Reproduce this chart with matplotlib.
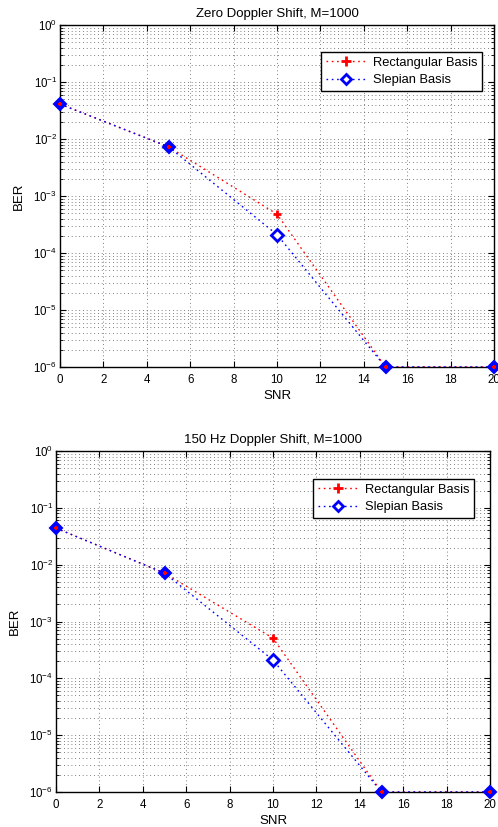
import matplotlib
matplotlib.use("Agg")
import matplotlib.pyplot as plt

plt.rcParams['font.family'] = ['Liberation Sans', 'DejaVu Sans']
plt.rcParams['mathtext.fontset'] = 'custom'
plt.rcParams['mathtext.rm'] = 'Liberation Sans'

snr = [0, 5, 10, 15, 20]
rect_top = [0.041, 0.0073, 4.8e-4, 1e-6, 1e-6]
slep_top = [0.041, 0.0073, 2.1e-4, 1e-6, 1e-6]
rect_bot = [0.044, 0.0071, 5.1e-4, 1e-6, 1e-6]
slep_bot = [0.044, 0.0071, 2.1e-4, 1e-6, 1e-6]
titles = ["Zero Doppler Shift, M=1000", "150 Hz Doppler Shift, M=1000"]
series_names = ['Rectangular Basis', 'Slepian Basis']
xticks = list(range(0, 21, 2))

fig = plt.figure(figsize=(4.98, 8.27), dpi=100)
W, H = 498, 827
# [left, top, right, bottom] in pixels
boxes = [(60, 25, 494, 367), (56, 451, 490, 792)]
legpos = [(321, 52), (313, 479)]
datasets = [(rect_top, slep_top), (rect_bot, slep_bot)]
dots = (0, (1.2, 2.6))
gridls = (0, (1, 3.5))

for i in range(2):
    l, t, r, b = boxes[i]
    ax = fig.add_axes([l / W, 1 - b / H, (r - l) / W, (b - t) / H])
    rect, slep = datasets[i]
    ax.set_yscale('log')
    ax.set_xlim(0, 20)
    ax.set_ylim(1e-6, 1)
    ax.plot(snr, rect, linestyle=dots, color='red', lw=1.0, zorder=3)
    ax.plot(snr, slep, linestyle=dots, color='blue', lw=1.0, zorder=3)
    same = [j for j in range(len(snr)) if rect[j] == slep[j]]
    diff = [j for j in range(len(snr)) if rect[j] != slep[j]]
    ax.plot([snr[j] for j in same], [slep[j] for j in same], linestyle='none',
            marker='D', ms=6.5, color='blue', mfc='blue', mew=1.5, zorder=4, clip_on=False)
    ax.plot([snr[j] for j in diff], [slep[j] for j in diff], linestyle='none',
            marker='D', ms=6, color='blue', mfc='white', mew=2, zorder=4, clip_on=False)
    ax.plot([snr[j] for j in same], [rect[j] for j in same], linestyle='none',
            marker='+', ms=3, color='red', mew=1.5, zorder=5, clip_on=False)
    ax.plot([snr[j] for j in diff], [rect[j] for j in diff], linestyle='none',
            marker='+', ms=6, color='red', mew=2, zorder=5, clip_on=False)
    h1, = ax.plot([], [], linestyle=dots, color='red', marker='+', ms=7, mew=2, lw=1)
    h2, = ax.plot([], [], linestyle=dots, color='blue', marker='D', ms=5.5, mfc='white', mew=2, lw=1)
    lx, ly = legpos[i]
    leg = ax.legend([h1, h2], series_names,
                    loc='upper left', bbox_to_anchor=((lx - l) / (r - l), 1 - (ly - t) / (b - t)),
                    fancybox=False, edgecolor='black', framealpha=1, fontsize=9.3,
                    borderpad=0.35, labelspacing=0.45, handlelength=3.2, handletextpad=0.5,
                    borderaxespad=0)
    leg.get_frame().set_linewidth(1.0)
    leg.set_zorder(10)
    ax.set_xticks(xticks)
    ax.set_xticklabels([str(v) for v in xticks])
    ax.set_yticks([10.0 ** k for k in range(-6, 1)])
    ax.grid(True, which='major', linestyle=gridls, color='#555555', lw=0.6)
    ax.grid(True, which='minor', axis='y', linestyle=gridls, color='#555555', lw=0.6)
    ax.tick_params(which='both', direction='in', top=True, right=True, labelsize=8.3)
    ax.tick_params(which='major', length=4, width=0.8)
    ax.tick_params(axis='y', which='major', pad=2)
    ax.tick_params(axis='x', which='major', pad=5)
    ax.tick_params(which='minor', length=2, width=0.6)
    for s in ax.spines.values():
        s.set_linewidth(1.0)
    ax.set_xlabel('SNR', fontsize=9.5, labelpad=3)
    ax.set_ylabel('BER', fontsize=9.5, labelpad=6)
    ax.set_title(titles[i], fontsize=9.5, pad=6)

fig.savefig('out.png', dpi=100)
